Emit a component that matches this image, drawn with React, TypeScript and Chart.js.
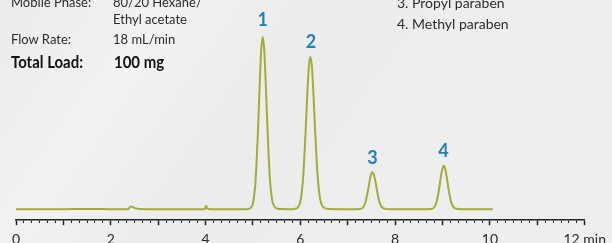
import { useEffect, useRef } from 'react';
import { Chart, registerables } from 'chart.js';

Chart.register(...registerables);

// Chromatogram trace: retention time (min) and detector signal (arbitrary units)
const retentionTimes: number[] = [
  0.0, 0.5, 1.0, 1.5, 2.0, 2.3, 2.37, 2.41, 2.44, 2.48, 2.54, 2.62, 2.75,
  3.2, 3.6, 3.95, 3.99, 4.01, 4.03, 4.06, 4.12, 4.5, 4.85,
  4.905, 4.955, 5.005, 5.055, 5.105, 5.145, 5.175, 5.205, 5.235, 5.265, 5.305, 5.355, 5.405, 5.455, 5.525, 5.62, 5.75,
  5.86, 5.91, 5.96, 6.01, 6.06, 6.11, 6.15, 6.18, 6.21, 6.24, 6.27, 6.31, 6.36, 6.41, 6.46, 6.53, 6.63, 6.8,
  7.0, 7.22, 7.24, 7.32, 7.37, 7.42, 7.46, 7.49, 7.52, 7.55, 7.58, 7.62, 7.67, 7.72, 7.8, 7.9,
  8.3, 8.7, 8.745, 8.825, 8.875, 8.925, 8.965, 8.995, 9.025, 9.055, 9.085, 9.125, 9.175, 9.225, 9.305, 9.4,
  9.7, 10.06,
];
const signal: number[] = [
  0, 0, 0, 0.2, 0, 0, 0.2, 2.6, 2.8, 1.6, 0.6, 0.1, 0,
  0, 0, 0, 0.4, 3.5, 1.2, 0.2, 0, 0, 0,
  0.3, 1.5, 7, 29, 78, 129, 160, 172, 161, 131, 82, 32, 9, 2.5, 0.5, 0.1, 0,
  0, 0.7, 2.5, 10, 33, 77, 119, 143, 152, 144, 121, 80, 36, 12, 3.5, 0.8, 0.1, 0,
  0, 0, 0.1, 1.6, 6.4, 17, 28, 34.5, 37, 34.7, 28.5, 17.8, 7, 2, 0.3, 0,
  0, 0, 0.1, 1.9, 7.4, 19.7, 32.5, 40, 43.5, 40.5, 33, 20.5, 8, 2.3, 0.4, 0,
  0, 0,
];

// Peak annotations
const peakNumbers: string[] = ['1', '2', '3', '4'];
const peakTimes: number[] = [5.205, 6.225, 7.52, 9.02];
const peakLabelLevels: number[] = [183.5, 161, 45, 52];

// Axis
const xMin = 0;
const xMax = 12;
const labelEvery = 2;
const unitLabel = 'min';

const LINE_COLOR = '#a4ac38';
const PEAK_COLOR = '#1f80bb';
const AXIS_COLOR = '#232323';

const isWhole = (v: number) => Math.abs(v - Math.round(v)) < 1e-6;

const peakLabelPlugin = {
  id: 'peakLabels',
  afterDatasetsDraw(chart: any) {
    const { ctx, scales } = chart;
    ctx.save();
    ctx.fillStyle = PEAK_COLOR;
    ctx.font = 'bold 18px Lato, "Open Sans", sans-serif';
    ctx.textAlign = 'center';
    ctx.textBaseline = 'alphabetic';
    peakNumbers.forEach((n, i) => {
      const x = scales.x.getPixelForValue(peakTimes[i]);
      const y = scales.y.getPixelForValue(peakLabelLevels[i]);
      ctx.fillText(n, x, y);
    });
    ctx.restore();
  },
};

export default function App() {
  const canvasRef = useRef<HTMLCanvasElement | null>(null);

  useEffect(() => {
    if (!canvasRef.current) return;
    const points = retentionTimes.map((t, i) => ({ x: t, y: signal[i] }));
    const chart = new Chart(canvasRef.current, {
      type: 'line',
      data: {
        datasets: [
          {
            data: points,
            borderColor: LINE_COLOR,
            borderWidth: 2,
            pointRadius: 0,
            fill: false,
            cubicInterpolationMode: 'monotone',
          },
        ],
      },
      options: {
        animation: false,
        responsive: true,
        maintainAspectRatio: false,
        layout: { padding: { left: 16, right: 26, top: 0, bottom: 0 } },
        plugins: {
          legend: { display: false },
          tooltip: { enabled: false },
        },
        scales: {
          x: {
            type: 'linear',
            min: xMin,
            max: xMax,
            position: 'bottom',
            border: { display: true, color: AXIS_COLOR, width: 1.5 },
            grid: {
              drawOnChartArea: false,
              drawTicks: true,
              tickLength: 5,
              tickColor: AXIS_COLOR,
              tickWidth: (c: any) => (c.tick && isWhole(c.tick.value) ? 1.5 : 1),
              tickBorderDash: (c: any) => (c.tick && isWhole(c.tick.value) ? [] : [2.5, 50]),
            },
            ticks: {
              stepSize: 1 / 6,
              autoSkip: false,
              maxRotation: 0,
              minRotation: 0,
              padding: 6,
              color: '#2a2a2a',
              font: { family: 'Lato', size: 14 },
              callback: (v: any) => {
                const n = Number(v);
                if (!isWhole(n)) return '';
                const r = Math.round(n);
                if (r % labelEvery !== 0) return '';
                return r === xMax ? `${r} ${unitLabel}` : String(r);
              },
            },
          },
          y: { display: false, min: -11, max: 209 },
        },
      },
      plugins: [peakLabelPlugin],
    } as any);
    return () => chart.destroy();
  }, []);

  const base: React.CSSProperties = {
    position: 'absolute',
    fontFamily: 'Lato, "Open Sans", sans-serif',
    color: '#2b2b2b',
    whiteSpace: 'nowrap',
    lineHeight: 1.2,
  };
  const small: React.CSSProperties = { ...base, fontSize: 13 };
  const legend: React.CSSProperties = { ...base, fontSize: 14 };
  const bold: React.CSSProperties = {
    ...base,
    fontSize: 17,
    fontWeight: 700,
    color: '#111',
    transform: 'scaleX(0.88)',
    transformOrigin: 'left top',
  };

  return (
    <div
      style={{
        position: 'fixed',
        left: 0,
        top: 0,
        width: 612,
        height: 243,
        overflow: 'hidden',
        background:
          'linear-gradient(125deg, #ebebec 0%, #f2f2f3 22%, #ececed 40%, #eeeeef 70%, #efeff0 100%)',
      }}
    >
      <div style={{ position: 'absolute', left: 0, top: 0, width: 612, height: 254 }}>
        <canvas ref={canvasRef} />
      </div>
      <div style={{ ...small, left: 11, top: -5 }}>Mobile Phase:</div>
      <div style={{ ...small, left: 113, top: -5 }}>80/20 Hexane/</div>
      <div style={{ ...small, left: 113, top: 12 }}>Ethyl acetate</div>
      <div style={{ ...small, left: 11, top: 32 }}>Flow Rate:</div>
      <div style={{ ...small, left: 113, top: 32 }}>18 mL/min</div>
      <div style={{ ...bold, left: 11, top: 51.5 }}>Total Load:</div>
      <div style={{ ...bold, left: 114, top: 51.5 }}>100 mg</div>
      <div style={{ ...legend, left: 397, top: -5.5 }}>3. Propyl paraben</div>
      <div style={{ ...legend, left: 397, top: 15.5 }}>4. Methyl paraben</div>
    </div>
  );
}
